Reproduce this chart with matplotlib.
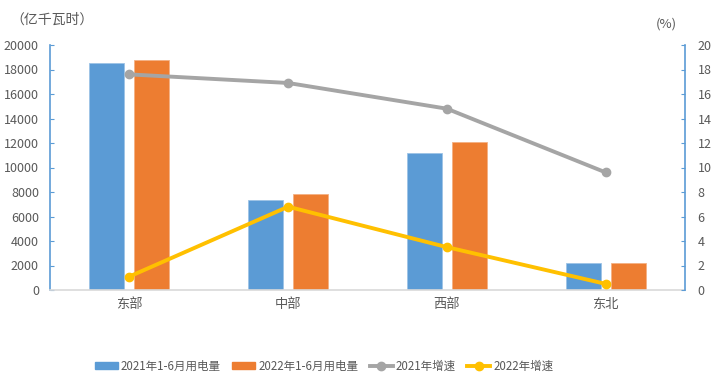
import matplotlib
matplotlib.use("Agg")
import matplotlib.pyplot as plt
import numpy as np
from matplotlib.lines import Line2D
from matplotlib.patches import Patch

plt.rcParams['font.family'] = ['Noto Sans CJK SC', 'DejaVu Sans']

categories = ["东部", "中部", "西部", "东北"]
use_2021 = [18560, 7320, 11160, 2180]
use_2022 = [18780, 7810, 12080, 2180]
growth_2021 = [17.6, 16.9, 14.8, 9.6]
growth_2022 = [1.1, 6.8, 3.5, 0.5]
left_ticks = [0, 2000, 4000, 6000, 8000, 10000, 12000, 14000, 16000, 18000, 20000]
right_ticks = [0, 2, 4, 6, 8, 10, 12, 14, 16, 18, 20]

blue = "#5B9BD5"
orange = "#ED7D31"
gray = "#A5A5A5"
yellow = "#FFC000"
txt = "#595959"
axblue = "#5B9BD5"

fig = plt.figure(figsize=(7.17, 3.81), dpi=100)
ax = fig.add_axes([50/717, 1 - 290/381, 635/717, 245/381])
ax2 = ax.twinx()

x = np.arange(len(categories))
w = 0.22
off = 0.142
ax.bar(x - off, use_2021, w, color=blue, edgecolor="#9DC3E6", linewidth=0.6, zorder=2)
ax.bar(x + off, use_2022, w, color=orange, edgecolor="#F4B183", linewidth=0.6, zorder=2)

ax2.plot(x, growth_2021, color=gray, lw=2.8, marker='o', ms=6, zorder=3)
ax2.plot(x, growth_2022, color=yellow, lw=2.8, marker='o', ms=6, zorder=3)

ax.set_xlim(-0.5, 3.5)
ax.set_ylim(0, 20000)
ax2.set_ylim(0, 20)
ax.set_yticks(left_ticks)
ax2.set_yticks(right_ticks)
ax.set_xticks(x)
ax.set_xticklabels(categories)

for a in (ax, ax2):
    a.spines['top'].set_visible(False)
ax.spines['right'].set_visible(False)
ax2.spines['left'].set_visible(False)
ax2.spines['bottom'].set_visible(False)
ax.spines['left'].set_color(axblue)
ax.spines['left'].set_linewidth(1.2)
ax2.spines['right'].set_color(axblue)
ax2.spines['right'].set_linewidth(1.2)
ax.spines['bottom'].set_color("#D9D9D9")
ax.spines['bottom'].set_linewidth(1.2)

ax.tick_params(axis='y', direction='in', length=3, color=axblue, labelcolor=txt, labelsize=9, pad=8)
ax2.tick_params(axis='y', direction='in', length=3, color=axblue, labelcolor=txt, labelsize=9, pad=9)
ax.tick_params(axis='x', length=0, labelcolor=txt, labelsize=9.5, pad=6)

fig.text(10/717, 1 - 20/381, "（亿千瓦时）", color=txt, fontsize=10, va='center', ha='left')
fig.text(666/717, 1 - 24/381, "(%)", color=txt, fontsize=9.5, va='center', ha='center')

handles = [
    Patch(facecolor=blue, edgecolor=blue),
    Patch(facecolor=orange, edgecolor=orange),
    Line2D([0], [0], color=gray, lw=2.8, marker='o', ms=6),
    Line2D([0], [0], color=yellow, lw=2.8, marker='o', ms=6),
]
labels = ["2021年1-6月用电量", "2022年1-6月用电量", "2021年增速", "2022年增速"]
leg = fig.legend(handles, labels, loc='center', bbox_to_anchor=(324/717, 1 - 366/381),
                 ncol=4, frameon=False, fontsize=8.3, handlelength=2.0, handleheight=0.5,
                 columnspacing=1.0, handletextpad=0.25)
for t in leg.get_texts():
    t.set_color(txt)

fig.savefig("out.png", dpi=100)
